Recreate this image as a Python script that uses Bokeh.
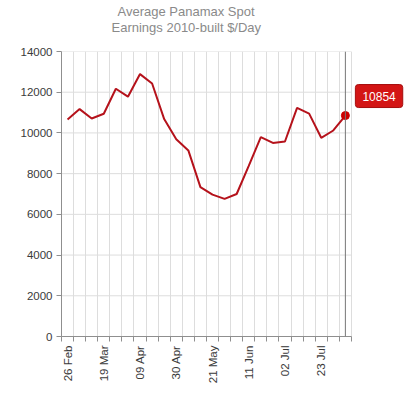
from bokeh.plotting import figure
from bokeh.models import FixedTicker, Span, Label, ColumnDataSource, Title
from bokeh.embed import file_html
from bokeh.resources import INLINE
import math

weeks = ["26 Feb", "05 Mar", "12 Mar", "19 Mar", "26 Mar", "02 Apr", "09 Apr", "16 Apr",
         "23 Apr", "30 Apr", "07 May", "14 May", "21 May", "28 May", "04 Jun", "11 Jun",
         "18 Jun", "25 Jun", "02 Jul", "09 Jul", "16 Jul", "23 Jul", "30 Jul", "06 Aug"]
earnings = [10660, 11170, 10710, 10940, 12170, 11780, 12890, 12430,
            10680, 9690, 9140, 7340, 6970, 6760, 7000, 8380,
            9790, 9510, 9580, 11230, 10950, 9760, 10120, 10854]
label_every = 3
y_ticks = [0, 2000, 4000, 6000, 8000, 10000, 12000, 14000]
title_lines = ["Average Panamax Spot", "Earnings 2010-built $/Day"]

n = len(weeks)
idx = list(range(n))
src = ColumnDataSource(dict(x=idx, y=earnings))

frame_w = 343
cat_px = 12.08
p = figure(width=404, height=391, output_backend="svg", toolbar_location=None,
           x_range=(-0.5, -0.5 + frame_w / cat_px), y_range=(0, 14000),
           min_border_left=61, min_border_right=0, min_border_bottom=55, min_border_top=51)
p.outline_line_color = None
p.background_fill_color = "white"
p.border_fill_color = "white"

for txt, off, so in [(title_lines[1], 50, 34), (title_lines[0], 56, -36)]:
    p.add_layout(Title(text=txt, align="left", offset=off, standoff=so,
                       text_color="#8a8a8a", text_font="Liberation Sans",
                       text_font_style="normal", text_font_size="13px"), "above")

label_pos = idx[::label_every]
bounds = [i - 0.5 for i in range(n + 1)]
p.xaxis.ticker = FixedTicker(ticks=label_pos, minor_ticks=bounds)
p.xaxis.bounds = (-0.5, n - 0.5)
p.xaxis.major_label_overrides = {i: weeks[i] for i in label_pos}
p.xaxis.major_tick_out = 0
p.xaxis.major_tick_in = 0
p.xaxis.minor_tick_out = 5
p.xaxis.minor_tick_in = 0
p.xaxis.major_label_orientation = math.pi / 2
p.xgrid.ticker = FixedTicker(ticks=bounds)

p.yaxis.ticker = FixedTicker(ticks=y_ticks)
p.yaxis.minor_tick_line_color = None
p.yaxis.major_tick_out = 5
p.yaxis.major_tick_in = 0

for ax in (p.xaxis[0], p.yaxis[0]):
    ax.axis_line_color = "#8f8f8f"
    ax.major_tick_line_color = "#8f8f8f"
    ax.major_label_text_font = "Liberation Sans"
    ax.major_label_text_font_size = "11.5px"
    ax.major_label_text_color = "#3a3a3a"
    ax.major_label_standoff = 4
p.xaxis.minor_tick_line_color = "#8f8f8f"

p.xgrid.grid_line_color = "#dddddd"
p.ygrid.grid_line_color = None
# horizontal grid lines limited to the category span
p.segment(x0=[-0.5] * len(y_ticks), x1=[n - 0.5] * len(y_ticks), y0=y_ticks, y1=y_ticks,
          line_color="#dddddd", line_width=1)

p.line("x", "y", source=src, line_color="#b5121b", line_width=2)

last = n - 1
p.add_layout(Span(location=last, dimension="height", line_color="#777777", line_width=1))
p.scatter([last], [earnings[last]], size=8, fill_color="#cc0000", line_color="#cc0000")

p.add_layout(Label(x=last, y=earnings[last], text=str(earnings[last]), x_offset=10, y_offset=19.5,
                   text_align="left", text_baseline="middle", text_color="white",
                   text_font="Liberation Sans", text_font_size="12px",
                   background_fill_color="#d31515", border_line_color="#a50d0d",
                   padding=7, border_radius=3))

open("out.html", "w").write(file_html(p, INLINE))
